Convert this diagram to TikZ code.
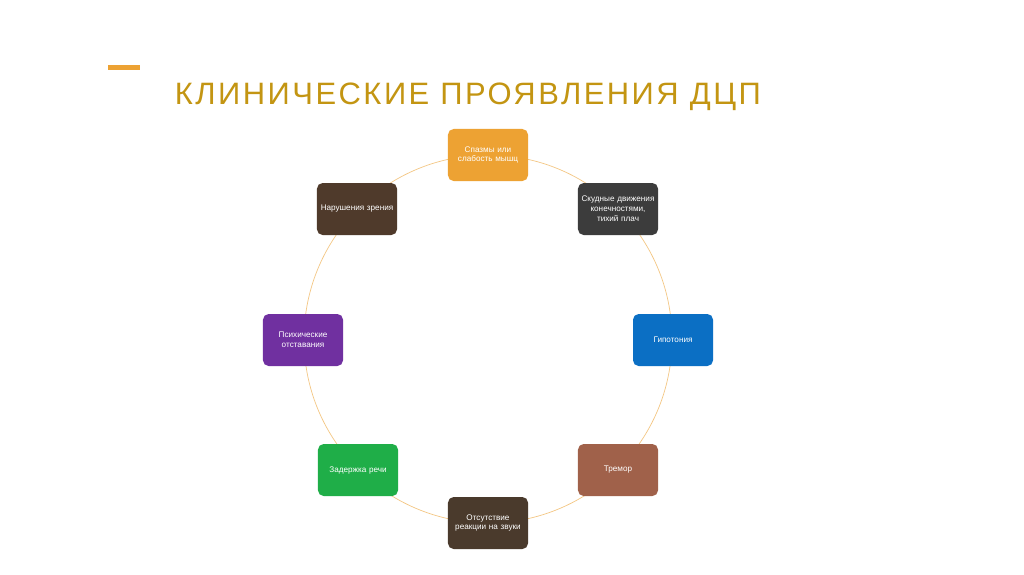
\documentclass[tikz,border=0pt]{standalone}
\usepackage{fontspec}
\setmainfont{Liberation Sans}
\newfontfamily\titlefont[LetterSpace=8]{Liberation Sans}
\definecolor{gold}{HTML}{C39512}
\definecolor{corange}{HTML}{EDA233}
\definecolor{cdark}{HTML}{3C3C3C}
\definecolor{cblue}{HTML}{0B6FC4}
\definecolor{cbrown}{HTML}{A0614A}
\definecolor{cdbrown}{HTML}{4A3A2C}
\definecolor{cgreen}{HTML}{1FAE48}
\definecolor{cpurple}{HTML}{7030A0}
\definecolor{cvbrown}{HTML}{4F3A2B}
\begin{document}
\begin{tikzpicture}[x=0.025cm,y=-0.025cm,
  box/.style={rounded corners=4pt,minimum width=2cm,minimum height=1.3cm,text width=1.9cm,align=center,text=white,font=\fontsize{5.8}{7}\selectfont,inner sep=1pt}]
\useasboundingbox[fill=white] (0,0) rectangle (1024,574);
\fill[corange] (108,65) rectangle (140,69.5);
\node[text=gold,font=\titlefont\fontsize{22}{26}\selectfont,anchor=west] (title) at (170,97) {КЛИНИЧЕСКИЕ ПРОЯВЛЕНИЯ ДЦП};
\draw[corange!60,line width=0.5pt] (488,339) circle (184);
\node[box,fill=corange] (n1) at (488,155) {Спазмы или слабость мышц};
\node[box,fill=cdark] (n2) at (618,209) {Скудные движения конечностями, тихий плач};
\node[box,fill=cblue] (n3) at (673,340) {Гипотония};
\node[box,fill=cbrown] (n4) at (618,470) {Тремор};
\node[box,fill=cdbrown] (n5) at (488,523) {Отсутствие реакции на звуки};
\node[box,fill=cgreen] (n6) at (358,470) {Задержка речи};
\node[box,fill=cpurple] (n7) at (303,340) {Психические отставания};
\node[box,fill=cvbrown] (n8) at (357,209) {Нарушения зрения};
\end{tikzpicture}
\end{document}
